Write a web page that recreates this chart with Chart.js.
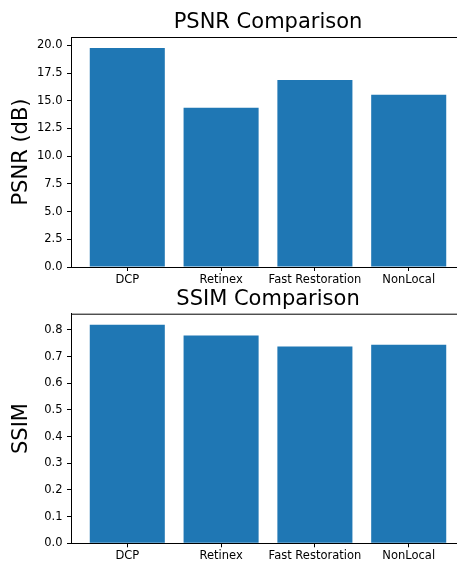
<!DOCTYPE html>
<html>
<head>
<meta charset="utf-8">
<script src="https://cdn.jsdelivr.net/npm/chart.js@4/dist/chart.umd.min.js"></script>
<style>
  html, body { margin: 0; padding: 0; background: #fff; }
  #wrap { position: relative; width: 457px; height: 563px; overflow: hidden; }
  .box { position: absolute; left: 0; width: 470px; }
</style>
</head>
<body>
<div id="wrap">
  <div class="box" style="top:0;height:292px"><canvas id="psnrChart"></canvas></div>
  <div class="box" style="top:286px;height:277px"><canvas id="ssimChart"></canvas></div>
</div>
<script>
const methods = ['DCP', 'Retinex', 'Fast Restoration', 'NonLocal'];
const psnrValues = [19.76, 14.36, 16.87, 15.53];
const ssimValues = [0.820, 0.779, 0.738, 0.745];
const psnrTicks = [0, 2.5, 5, 7.5, 10, 12.5, 15, 17.5, 20];
const ssimTicks = [0, 0.1, 0.2, 0.3, 0.4, 0.5, 0.6, 0.7, 0.8];

const FONT = 'DejaVu Sans';

// draw top/right spines like matplotlib
const frame = {
  id: 'frame',
  afterDraw(chart) {
    const { ctx, chartArea: a } = chart;
    ctx.save();
    ctx.strokeStyle = '#000';
    ctx.lineWidth = 1;
    ctx.beginPath();
    ctx.moveTo(a.left, a.top + 0.5);
    ctx.lineTo(a.right, a.top + 0.5);
    ctx.lineTo(a.right, a.bottom);
    ctx.stroke();
    ctx.restore();
  }
};

function makeChart(id, title, yLabel, values, ticks, decimals, sizes) {
  const ymax = Math.max(...values) * 1.05;
  return new Chart(document.getElementById(id), {
    type: 'bar',
    data: {
      datasets: [{
        data: values.map((v, i) => ({ x: i, y: v })),
        backgroundColor: '#1f77b4',
        borderWidth: 0,
        barPercentage: 0.8,
        categoryPercentage: 1.0
      }]
    },
    options: {
      responsive: true,
      maintainAspectRatio: false,
      animation: false,
      layout: { padding: { left: 0, right: 5, top: 0, bottom: 0 } },
      plugins: {
        legend: { display: false },
        tooltip: { enabled: false },
        title: {
          display: true,
          text: title,
          fullSize: false,
          color: '#000',
          font: { family: FONT, size: 21, weight: 'normal' },
          padding: { top: sizes.titleTop, bottom: sizes.titleBottom }
        }
      },
      scales: {
        x: {
          type: 'linear',
          min: -0.6,
          max: 3.6,
          offset: false,
          afterBuildTicks: s => { s.ticks = methods.map((m, i) => ({ value: i })); },
          afterFit: s => { s.height = sizes.xHeight; },
          ticks: {
            callback: v => methods[v],
            color: '#000',
            font: { family: FONT, size: 11.5 },
            padding: 2,
            maxRotation: 0,
            autoSkip: false
          },
          grid: { offset: false, drawOnChartArea: false, drawTicks: true, tickLength: 4, color: '#000' },
          border: { display: true, color: '#000', width: 1 }
        },
        y: {
          min: 0,
          max: ymax,
          afterBuildTicks: s => { s.ticks = ticks.map(v => ({ value: v })); },
          afterFit: s => { s.width = 71; },
          ticks: {
            callback: v => v.toFixed(decimals),
            color: '#000',
            font: { family: FONT, size: 11.5 },
            padding: 4.5
          },
          grid: { drawOnChartArea: false, drawTicks: true, tickLength: 4, color: '#000' },
          border: { display: true, color: '#000', width: 1 },
          title: {
            display: true,
            text: yLabel,
            color: '#000',
            font: { family: FONT, size: 21, weight: 'normal' },
            padding: { top: 9.4, bottom: 0 }
          }
        }
      }
    },
    plugins: [frame]
  });
}

makeChart('psnrChart', 'PSNR Comparison', 'PSNR (dB)', psnrValues, psnrTicks, 1,
  { titleTop: 10.4, titleBottom: 1.4, xHeight: 25 });
makeChart('ssimChart', 'SSIM Comparison', 'SSIM', ssimValues, ssimTicks, 1,
  { titleTop: 1.4, titleBottom: 1.1, xHeight: 19.7 });
</script>
</body>
</html>
